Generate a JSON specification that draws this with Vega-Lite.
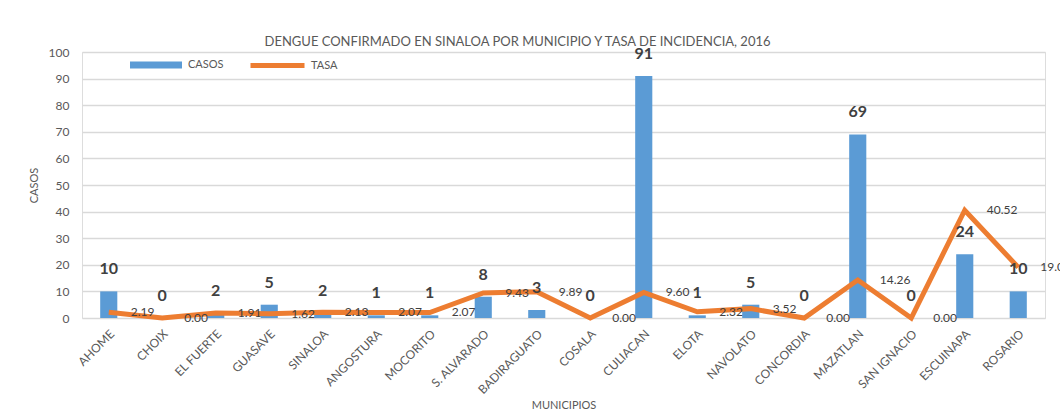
{
  "$schema": "https://vega.github.io/schema/vega-lite/v6.json",
  "width": 963,
  "height": 266,
  "autosize": {"type": "none"},
  "padding": {"left": 82, "top": 52, "right": 15, "bottom": 93},
  "background": "white",
  "config": {
    "axisY": {
      "domain": false,
      "ticks": false,
      "labelFont": "Lato",
      "labelFontSize": 12,
      "labelColor": "#595959",
      "labelPadding": 13,
      "gridColor": "#d9d9d9",
      "gridWidth": 1.5,
      "titleFont": "Lato",
      "titleFontSize": 11,
      "titleFontWeight": "normal",
      "titleColor": "#595959",
      "titlePadding": 9
    }
  },
  "title": {
    "text": "DENGUE CONFIRMADO EN SINALOA POR MUNICIPIO Y TASA DE INCIDENCIA, 2016",
    "font": "Lato",
    "fontSize": 13,
    "fontWeight": "normal",
    "color": "#595959",
    "anchor": "middle",
    "frame": "group",
    "dx": -46,
    "offset": -13
  },
  "data": {
    "values": [
      {"municipio": "AHOME", "casos": 10, "tasa": 2.19},
      {"municipio": "CHOIX", "casos": 0, "tasa": 0.00},
      {"municipio": "EL FUERTE", "casos": 2, "tasa": 1.91},
      {"municipio": "GUASAVE", "casos": 5, "tasa": 1.62},
      {"municipio": "SINALOA", "casos": 2, "tasa": 2.13},
      {"municipio": "ANGOSTURA", "casos": 1, "tasa": 2.07},
      {"municipio": "MOCORITO", "casos": 1, "tasa": 2.07},
      {"municipio": "S. ALVARADO", "casos": 8, "tasa": 9.43},
      {"municipio": "BADIRAGUATO", "casos": 3, "tasa": 9.89},
      {"municipio": "COSALA", "casos": 0, "tasa": 0.00},
      {"municipio": "CULIACAN", "casos": 91, "tasa": 9.60},
      {"municipio": "ELOTA", "casos": 1, "tasa": 2.32},
      {"municipio": "NAVOLATO", "casos": 5, "tasa": 3.52},
      {"municipio": "CONCORDIA", "casos": 0, "tasa": 0.00},
      {"municipio": "MAZATLAN", "casos": 69, "tasa": 14.26},
      {"municipio": "SAN IGNACIO", "casos": 0, "tasa": 0.00},
      {"municipio": "ESCUINAPA", "casos": 24, "tasa": 40.52},
      {"municipio": "ROSARIO", "casos": 10, "tasa": 19.03}
    ]
  },
  "encoding": {
    "x": {
      "field": "municipio",
      "type": "nominal",
      "sort": null,
      "scale": {"paddingInner": 0.68, "paddingOuter": 0.34},
      "axis": {
        "title": "MUNICIPIOS",
        "labelAngle": -45,
        "labelFont": "Lato",
        "labelFontSize": 12,
        "labelColor": "#595959",
        "labelPadding": 10,
        "domain": false,
        "ticks": false,
        "titleFont": "Lato",
        "titleFontSize": 11,
        "titleFontWeight": "normal",
        "titleColor": "#595959",
        "titlePadding": 4
      }
    }
  },
  "layer": [
    {
      "mark": {"type": "bar"},
      "encoding": {
        "y": {
          "field": "casos",
          "type": "quantitative",
          "scale": {"domain": [0, 100]},
          "axis": {"title": "CASOS", "values": [0, 10, 20, 30, 40, 50, 60, 70, 80, 90, 100], "labelOverlap": false}
        },
        "fill": {
          "datum": "CASOS",
          "scale": {"range": ["#5B9BD5"]},
          "legend": {
            "title": null,
            "orient": "none",
            "legendX": 48,
            "legendY": -13,
            "padding": 0,
            "symbolType": "M-1,-0.13H1V0.13H-1Z",
            "symbolSize": 2704,
            "symbolStrokeWidth": 0,
            "labelFont": "Lato",
            "labelFontSize": 11,
            "labelColor": "#595959",
            "labelOffset": 6
          }
        }
      }
    },
    {
      "mark": {"type": "line", "strokeWidth": 5, "strokeJoin": "miter"},
      "encoding": {
        "y": {"field": "tasa", "type": "quantitative", "axis": {"title": "CASOS", "values": [0, 10, 20, 30, 40, 50, 60, 70, 80, 90, 100], "labelOverlap": false}},
        "stroke": {
          "datum": "TASA",
          "scale": {"range": ["#ED7D31"]},
          "legend": {
            "title": null,
            "orient": "none",
            "legendX": 166,
            "legendY": -16,
            "padding": 0,
            "symbolType": "stroke",
            "symbolSize": 2916,
            "symbolStrokeWidth": 5,
            "labelFont": "Lato",
            "labelFontSize": 11,
            "labelColor": "#595959",
            "labelOffset": 4
          }
        }
      }
    },
    {
      "mark": {"type": "text", "dy": -22, "font": "Lato", "fontSize": 16, "fontWeight": "bold", "color": "#404040", "baseline": "middle"},
      "encoding": {
        "y": {"field": "casos", "type": "quantitative", "axis": {"title": "CASOS", "values": [0, 10, 20, 30, 40, 50, 60, 70, 80, 90, 100], "labelOverlap": false}},
        "text": {"field": "casos", "type": "quantitative"}
      }
    },
    {
      "mark": {"type": "text", "dx": 22, "align": "left", "font": "Lato", "fontSize": 12, "color": "#404040", "baseline": "middle"},
      "encoding": {
        "y": {"field": "tasa", "type": "quantitative", "axis": {"title": "CASOS", "values": [0, 10, 20, 30, 40, 50, 60, 70, 80, 90, 100], "labelOverlap": false}},
        "text": {"field": "tasa", "type": "quantitative", "format": ".2f"}
      }
    }
  ]
}
